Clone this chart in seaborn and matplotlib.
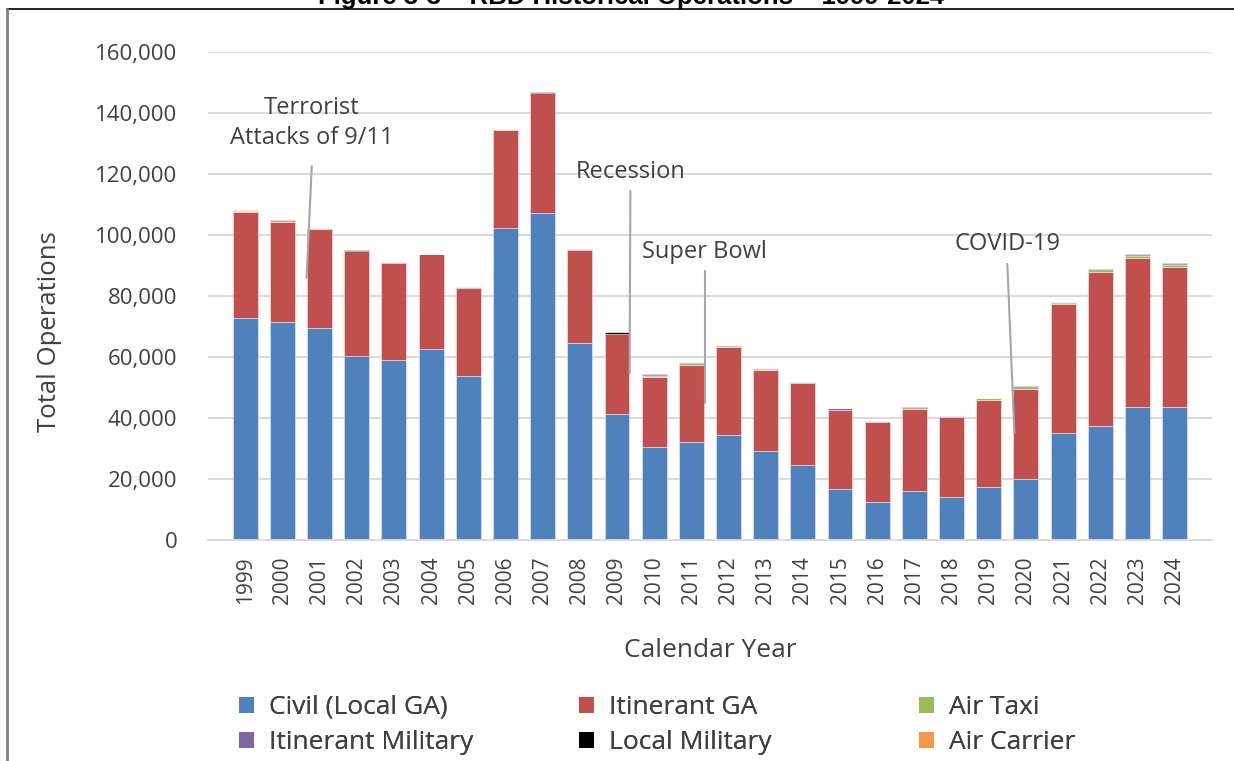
import matplotlib
matplotlib.use("Agg")
import matplotlib.pyplot as plt
from matplotlib.lines import Line2D
from matplotlib.patches import Patch
import numpy as np
import seaborn as sns

# Annual operations by category, 1999-2024
years = [str(y) for y in range(1999, 2025)]
civil_local_ga = [72900, 71600, 69500, 60300, 58900, 62500, 53700, 102400, 107100, 64600,
                  41200, 30500, 32000, 34400, 29100, 24600, 16700, 12500, 16200, 14000,
                  17400, 20100, 35200, 37400, 43500, 43700]
itinerant_ga = [34700, 32700, 32500, 34350, 31920, 31170, 28820, 32130, 39350, 30480,
                26240, 23050, 25480, 28980, 26740, 26770, 25820, 26090, 26860, 26330,
                28600, 29510, 42180, 50470, 49070, 45920]
air_taxi = [150, 150, 150, 100, 80, 100, 150, 100, 150, 100, 100, 350, 500, 300, 250, 150,
            250, 150, 200, 150, 400, 450, 400, 550, 600, 600]
itinerant_military = [100, 150, 100, 150, 80, 80, 130, 70, 100, 70, 160, 250, 250, 200, 150,
                      150, 350, 150, 150, 200, 150, 250, 200, 250, 300, 250]
local_military = [100, 200, 150, 100, 40, 50, 100, 100, 100, 50, 600, 250, 230, 160, 150,
                  230, 160, 130, 90, 90, 110, 180, 160, 180, 300, 240]
air_carrier = [150, 40, 30, 0, 0, 0, 0, 0, 0, 200, 0, 0, 0, 0, 0, 0, 0, 0, 0, 0, 0, 0, 0, 0,
               0, 0]

series_names = ["Civil (Local GA)", "Itinerant GA", "Air Taxi",
                "Itinerant Military", "Local Military", "Air Carrier"]
series_values = [civil_local_ga, itinerant_ga, air_taxi,
                 itinerant_military, local_military, air_carrier]
series_colors = ["#4F81BD", "#C0504D", "#9BBB59", "#8064A2", "#000000", "#F79646"]

# Event call-outs: (label, text x, text y, line start x, y, line end x, y)
events = [
    ("Terrorist\nAttacks of 9/11", 1.79, 136700, 1.79, 122600, 1.65, 85900),
    ("Recession", 10.36, 120700, 10.36, 114400, 10.34, 54700),
    ("Super Bowl", 12.35, 94400, 12.38, 88200, 12.38, 44900),
    ("COVID-19", 20.5, 97000, 20.5, 90500, 20.69, 35100),
]

sns.set_theme(style="white")
plt.rcParams["font.family"] = ["Open Sans", "DejaVu Sans"]
text_color = "#404040"

fig = plt.figure(figsize=(12.34, 7.61), dpi=100)
ax = fig.add_axes([0.1686, 0.2904, 0.8134, 0.6413])

bottom = np.zeros(len(years))
for name, vals, col in zip(series_names, series_values, series_colors):
    vals = np.asarray(vals, dtype=float)
    sns.barplot(x=years, y=vals, bottom=bottom, color=col, width=0.67,
                errorbar=None, ax=ax, linewidth=0.6, edgecolor="#FFFFFF80",
                saturation=1)
    bottom = bottom + vals

ax.set_ylim(0, 160000)
ax.set_xlim(-1, 26)
ax.set_yticks(np.arange(0, 160001, 20000))
ax.set_yticklabels([f"{v:,}" for v in range(0, 160001, 20000)])
ax.yaxis.grid(True, color="#D9D9D9", linewidth=1.4)
ax.set_axisbelow(True)
for side in ["left", "right", "top"]:
    ax.spines[side].set_visible(False)
ax.spines["bottom"].set_color("#D9D9D9")
ax.spines["bottom"].set_linewidth(1.4)
ax.tick_params(axis="both", length=0, labelcolor=text_color)
ax.tick_params(axis="y", pad=22, labelsize=16)
ax.tick_params(axis="x", pad=12, labelsize=15)
for lbl in ax.get_xticklabels():
    lbl.set_rotation(90)

ax.set_xlabel("Calendar Year", fontsize=19, color=text_color, labelpad=24)
ax.set_ylabel("Total Operations", fontsize=18.5, color=text_color, labelpad=24)
ax.yaxis.label.set_y(0.428)

for label, tx, ty, x0, y0, x1, y1 in events:
    ax.plot([x0, x1], [y0, y1], color="#A6A6A6", linewidth=1.5, zorder=5)
    ax.text(tx, ty, label, ha="center", va="center", fontsize=17,
            color=text_color, linespacing=1.3, zorder=6)

# Legend: three columns of two entries each
handles = [Patch(facecolor=c, edgecolor="none") for c in series_colors]
col_x = [239 / 1234, 579 / 1234, 919 / 1234]
for k in range(3):
    idx = [k, k + 3]
    leg = fig.legend([handles[i] for i in idx], [series_names[i] for i in idx],
                     loc="center left", bbox_to_anchor=(col_x[k], 1 - 725 / 761),
                     ncol=1, frameon=False, borderpad=0, borderaxespad=0,
                     handlelength=0.55, handleheight=0.55, handletextpad=0.6,
                     labelspacing=0.38, fontsize=19, labelcolor=text_color)
    fig.add_artist(leg)

# Page frame and clipped figure caption above the chart
fig.add_artist(Line2D([7 / 1234, 1], [1 - 9 / 761, 1 - 9 / 761],
                      transform=fig.transFigure, color="#000000", linewidth=1.2))
fig.add_artist(Line2D([7 / 1234, 7 / 1234], [0, 1 - 9 / 761],
                      transform=fig.transFigure, color="#808080", linewidth=2))
fig.text(0.511, 1 - 4 / 761, "Figure 3-3 \u2013 RBD Historical Operations \u2013 1999-2024",
         ha="center", va="baseline", fontsize=18.5, fontweight="bold",
         family=["Liberation Sans", "DejaVu Sans"], color="#000000")

fig.savefig("out.png", dpi=100)
